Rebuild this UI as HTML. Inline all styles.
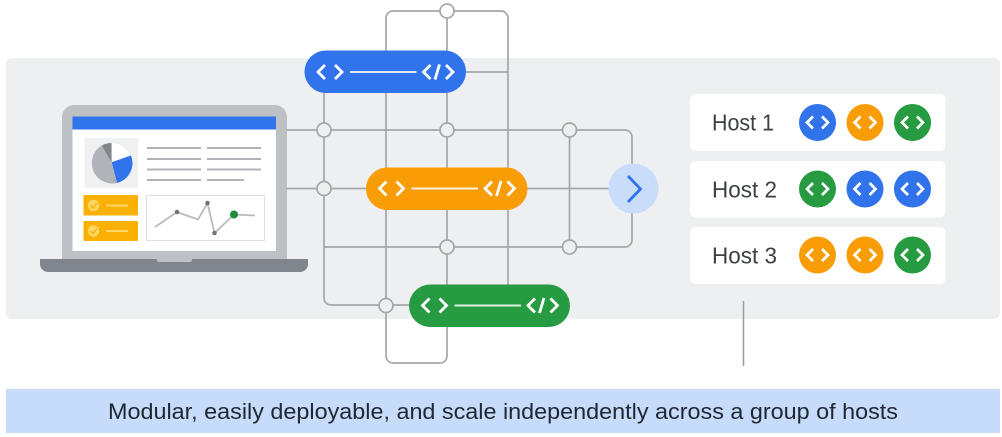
<!DOCTYPE html>
<html>
<head>
<meta charset="utf-8">
<style>
html,body{margin:0;padding:0;background:#fff;width:1002px;height:437px;overflow:hidden}
svg{display:block}
text{font-family:"Liberation Sans",sans-serif}
</style>
</head>
<body>
<svg width="1002" height="437" viewBox="0 0 1002 437" xmlns="http://www.w3.org/2000/svg">
<defs>
  <g id="pillicon" fill="none" stroke="#fff" stroke-width="2.8">
    <path d="M20.500 -7L13.500 0L20.500 7"/>
    <path d="M30.500 -7L37.500 0L30.500 7"/>
    <path d="M45.500 0H112" stroke-width="2" stroke-opacity=".85"/>
    <path d="M126 -7L119 0L126 7"/>
    <path d="M130.500 7.500L135 -7.500"/>
    <path d="M141.500 -7L148.500 0L141.500 7"/>
  </g>
  <g id="ci" fill="none" stroke="#fff" stroke-width="2.700">
    <path d="M-4.500 -6L-10.500 0L-4.500 6"/>
    <path d="M4.500 -6L10.500 0L4.500 6"/>
  </g>
  <circle id="node" r="7" fill="#eeeff1" stroke="#a4a6a9" stroke-width="1.700"/>
</defs>

<rect x="6" y="58" width="994" height="261" rx="6" fill="#eeeff1"/>

<!-- connectors -->
<g fill="none" stroke="#a4a6a9" stroke-width="1.700">
  <path d="M386 356V18a7 7 0 0 1 7-7H501a7 7 0 0 1 7 7V290"/>
  <path d="M386 356a7 7 0 0 0 7 7H440a7 7 0 0 0 7-7V11"/>
  <path d="M460 72H508"/>
  <path d="M287 130H625a7 7 0 0 1 7 7V240a7 7 0 0 1-7 7H324"/>
  <path d="M287 188.500H640"/>
  <path d="M324 90V298a7 7 0 0 0 7 7H415"/>
  <path d="M569.500 130V247"/>
</g>

<!-- laptop -->
<path d="M62 259V117a12 12 0 0 1 12-12H275a12 12 0 0 1 12 12V259Z" fill="#bdc1c6"/>
<path d="M40 259H308V264a8 8 0 0 1-8 8H48a8 8 0 0 1-8-8Z" fill="#80868b"/>
<path d="M157 259H192V260a2 2 0 0 1-2 2H159a2 2 0 0 1-2-2Z" fill="#bdc1c6"/>
<rect x="72.500" y="116.500" width="203.500" height="134.500" fill="#fff"/>
<rect x="72.500" y="116.500" width="203.500" height="13" fill="#3073ea"/>
<rect x="84.500" y="138" width="53.500" height="50" fill="#eff0f2"/>
<!-- pie -->
<path d="M111.700 163L111.700 143A20.500 20.500 0 0 0 101.700 145.500Z" fill="#80868b"/>
<path d="M111.700 163L101.700 145.500A20.500 20.500 0 0 0 117 183Z" fill="#b0b4b9"/>
<path d="M111.700 143A20.500 20.500 0 0 1 130 155L111.700 162.300Z" fill="#fff"/>
<path d="M111.700 162.300L131 155.500A20.500 20.500 0 0 1 117 183Z" fill="#3073ea"/>
<g stroke="#b1b3b6" stroke-width="2" fill="none">
  <path d="M147 148H201M207 148H261M147 159H201M207 159H261M147 169.500H201M207 169.500H261M147 180H201M207 180H244"/>
</g>
<!-- yellow -->
<rect x="83.500" y="195" width="54.500" height="20.500" rx="1" fill="#fab005"/>
<rect x="83.500" y="221" width="54.500" height="20" rx="1" fill="#fab005"/>
<circle cx="93.500" cy="205.500" r="5.700" fill="#fdd663"/>
<circle cx="93.500" cy="231" r="5.700" fill="#fdd663"/>
<path d="M90.500 205.500L93 208L97 203M90.500 231L93 233.500L97 228.500" fill="none" stroke="#fab005" stroke-width="1.400"/>
<path d="M106 205.500H128M106 231H128" stroke="#fdd663" stroke-width="2"/>
<!-- chart -->
<rect x="146.500" y="195.500" width="118" height="45" fill="#fff" stroke="#dfe1e5" stroke-width="1"/>
<path d="M155 227L177 212L198 219.500L207.500 203L214.500 233L234 214.500L255 215.500" fill="none" stroke="#b9bbbe" stroke-width="1.800"/>
<circle cx="177" cy="212" r="2.300" fill="#70757a"/>
<circle cx="207.500" cy="203" r="2.300" fill="#70757a"/>
<circle cx="214.500" cy="233" r="2.300" fill="#70757a"/>
<circle cx="234" cy="214.500" r="4" fill="#1e8e3e"/>

<!-- pills -->
<rect x="304.500" y="50.500" width="161.500" height="42.500" rx="21.250" fill="#3073ea"/>
<use href="#pillicon" x="304.500" y="72"/>
<rect x="366" y="167.500" width="161.500" height="42.500" rx="21.250" fill="#f99d06"/>
<use href="#pillicon" x="366" y="188.500"/>
<rect x="409" y="284.500" width="161" height="42.500" rx="21.250" fill="#279b41"/>
<use href="#pillicon" x="409" y="305.500"/>

<!-- nodes -->
<circle cx="447" cy="11" r="7" fill="#fff" stroke="#a4a6a9" stroke-width="1.700"/>
<use href="#node" x="324" y="130"/>
<use href="#node" x="447" y="130"/>
<use href="#node" x="569.500" y="130"/>
<use href="#node" x="324" y="188.500"/>
<use href="#node" x="447" y="247"/>
<use href="#node" x="569.500" y="247"/>
<use href="#node" x="386" y="305.500"/>

<!-- arrow -->
<circle cx="633.500" cy="188.500" r="25" fill="#c9dcfa"/>
<path d="M628 176L640.500 189L628 202" fill="none" stroke="#3073ea" stroke-width="2.800"/>

<!-- hosts -->
<rect x="690" y="94" width="255.500" height="57" rx="6" fill="#fff"/>
<rect x="690" y="161" width="255.500" height="56.500" rx="6" fill="#fff"/>
<rect x="690" y="227" width="255.500" height="57" rx="6" fill="#fff"/>
<text x="712" y="130.500" font-size="23" fill="#3c4043" textLength="62" lengthAdjust="spacingAndGlyphs">Host 1</text>
<text x="712" y="197.500" font-size="23" fill="#3c4043" textLength="65" lengthAdjust="spacingAndGlyphs">Host 2</text>
<text x="712" y="263.500" font-size="23" fill="#3c4043" textLength="65" lengthAdjust="spacingAndGlyphs">Host 3</text>

<circle cx="817.500" cy="122.500" r="18.500" fill="#3073ea"/><use href="#ci" x="817.500" y="122.500"/>
<circle cx="865" cy="122.500" r="18.500" fill="#f99d06"/><use href="#ci" x="865" y="122.500"/>
<circle cx="912.500" cy="122.500" r="18.500" fill="#279b41"/><use href="#ci" x="912.500" y="122.500"/>
<circle cx="817.500" cy="189" r="18.500" fill="#279b41"/><use href="#ci" x="817.500" y="189"/>
<circle cx="865" cy="189" r="18.500" fill="#3073ea"/><use href="#ci" x="865" y="189"/>
<circle cx="912.500" cy="189" r="18.500" fill="#3073ea"/><use href="#ci" x="912.500" y="189"/>
<circle cx="817.500" cy="255" r="18.500" fill="#f99d06"/><use href="#ci" x="817.500" y="255"/>
<circle cx="865" cy="255" r="18.500" fill="#f99d06"/><use href="#ci" x="865" y="255"/>
<circle cx="912.500" cy="255" r="18.500" fill="#279b41"/><use href="#ci" x="912.500" y="255"/>

<!-- bottom -->
<path d="M743.500 301V366" stroke="#9a9c9f" stroke-width="1.500"/>
<rect x="6" y="389" width="994" height="44" fill="#c7dbfa"/>
<text x="108" y="419" font-size="22.500" fill="#1f2733" textLength="790" lengthAdjust="spacingAndGlyphs">Modular, easily deployable, and scale independently across a group of hosts</text>
</svg>
</body>
</html>
